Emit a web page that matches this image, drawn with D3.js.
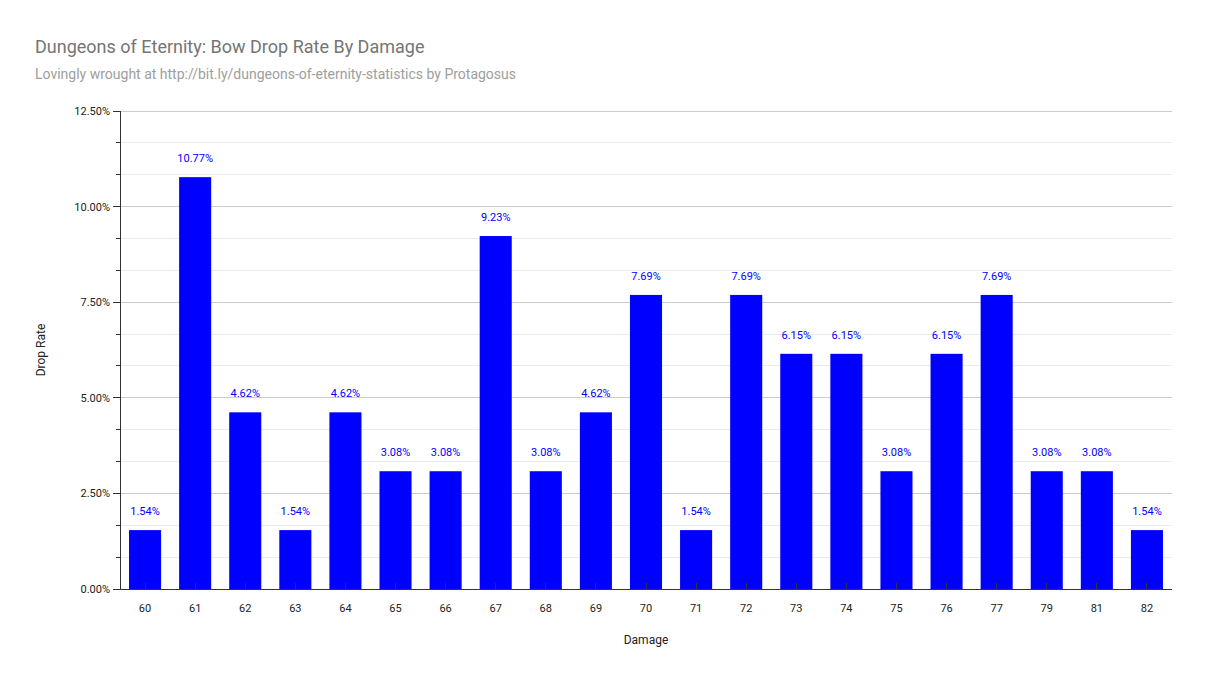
<!DOCTYPE html>
<html><head><meta charset="utf-8">
<script src="https://cdn.jsdelivr.net/npm/d3@7"></script>
<style>body{margin:0;background:#fff;font-family:Roboto,Arial,sans-serif}</style>
</head><body><div id="chart"></div>
<script>
'use strict';
var damage = ['60','61','62','63','64','65','66','67','68','69','70','71','72','73','74','75','76','77','79','81','82'];
var dropRate = [1.54,10.77,4.62,1.54,4.62,3.08,3.08,9.23,3.08,4.62,7.69,1.54,7.69,6.15,6.15,3.08,6.15,7.69,3.08,3.08,1.54];
var majorTicks = [0, 2.5, 5, 7.5, 10, 12.5];

var W = 1207, H = 682;
var m = {left: 120, right: 35, top: 111, bottom: 93};
var svg = d3.select('#chart').append('svg').attr('width', W).attr('height', H);

var x = d3.scaleBand().domain(damage).range([m.left, W - m.right]).paddingInner(0.36).paddingOuter(0.18);
var y = d3.scaleLinear().domain([0, 12.5]).range([H - m.bottom, m.top]);

// minor gridlines
var minor = d3.range(0, 12.5 + 1e-9, 2.5 / 3);
svg.append('g').selectAll('line').data(minor).join('line')
  .attr('x1', m.left).attr('x2', W - m.right)
  .attr('y1', function (d) { return y(d); }).attr('y2', function (d) { return y(d); })
  .attr('stroke', function (d, i) { return i % 3 === 0 ? '#ccc' : '#ebebeb'; })
  .attr('stroke-width', 1).attr('shape-rendering', 'crispEdges');
// y tick marks
svg.append('g').selectAll('line').data(minor).join('line')
  .attr('x1', function (d, i) { return i % 3 === 0 ? m.left - 7 : m.left - 4; }).attr('x2', m.left)
  .attr('y1', function (d) { return y(d); }).attr('y2', function (d) { return y(d); })
  .attr('stroke', '#333').attr('shape-rendering', 'crispEdges');

svg.append('g').selectAll('text').data(majorTicks).join('text')
  .attr('x', m.left - 10).attr('y', function (d) { return y(d) + 4; })
  .attr('text-anchor', 'end').attr('font-size', 11).attr('fill', '#222')
  .text(function (d) { return d.toFixed(2) + '%'; });

// bars
svg.append('g').selectAll('rect').data(dropRate).join('rect')
  .attr('x', function (d, i) { return x(damage[i]); })
  .attr('y', function (d) { return y(d); })
  .attr('width', x.bandwidth())
  .attr('height', function (d) { return y(0) - y(d); })
  .attr('fill', '#0000ff');

svg.append('g').selectAll('text').data(dropRate).join('text')
  .attr('x', function (d, i) { return x(damage[i]) + x.bandwidth() / 2; })
  .attr('y', function (d) { return y(d) - 15; })
  .attr('text-anchor', 'middle').attr('font-size', 11).attr('fill', '#0000ff')
  .text(function (d) { return d.toFixed(2) + '%'; });

// axes lines
svg.append('line').attr('x1', m.left).attr('x2', m.left).attr('y1', m.top).attr('y2', y(0))
  .attr('stroke', '#333').attr('shape-rendering', 'crispEdges');
svg.append('line').attr('x1', m.left).attr('x2', W - m.right).attr('y1', y(0)).attr('y2', y(0))
  .attr('stroke', '#333').attr('shape-rendering', 'crispEdges');
svg.append('g').selectAll('line').data(damage).join('line')
  .attr('x1', function (d) { return x(d) + x.bandwidth() / 2; })
  .attr('x2', function (d) { return x(d) + x.bandwidth() / 2; })
  .attr('y1', y(0) - 6).attr('y2', y(0))
  .attr('stroke', '#333').attr('shape-rendering', 'crispEdges');
svg.append('g').selectAll('text').data(damage).join('text')
  .attr('x', function (d) { return x(d) + x.bandwidth() / 2; })
  .attr('y', y(0) + 23).attr('text-anchor', 'middle').attr('font-size', 11).attr('fill', '#222')
  .text(function (d) { return d; });

// titles
svg.append('text').attr('x', 35).attr('y', 53).attr('font-size', 18).attr('fill', '#757575')
  .text('Dungeons of Eternity: Bow Drop Rate By Damage');
svg.append('text').attr('x', 35).attr('y', 79).attr('font-size', 14).attr('fill', '#9e9e9e')
  .text('Lovingly wrought at http://bit.ly/dungeons-of-eternity-statistics by Protagosus');
svg.append('text').attr('x', (m.left + W - m.right) / 2).attr('y', 644).attr('text-anchor', 'middle')
  .attr('font-size', 12).attr('fill', '#222').text('Damage');
svg.append('text').attr('transform', 'translate(45,' + ((m.top + y(0)) / 2) + ') rotate(-90)')
  .attr('text-anchor', 'middle').attr('font-size', 12).attr('fill', '#222').text('Drop Rate');
</script></body></html>
